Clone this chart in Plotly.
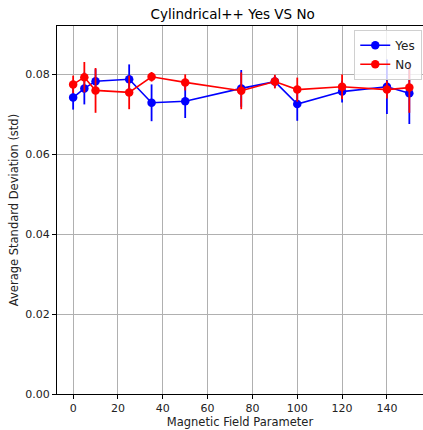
import plotly.graph_objects as go

# Magnetic field parameter values
field = [0, 5, 10, 25, 35, 50, 75, 90, 100, 120, 140, 150]

# Average standard deviation and its spread, per configuration
yes_mean = [0.0741, 0.0764, 0.0782, 0.0787, 0.0728, 0.0732, 0.0764, 0.0781, 0.0725, 0.0756, 0.0768, 0.0752]
yes_err = [0.0030, 0.0040, 0.0030, 0.0037, 0.0046, 0.0042, 0.0046, 0.0015, 0.0042, 0.0027, 0.0068, 0.0077]
no_mean = [0.0774, 0.0792, 0.0759, 0.0754, 0.0793, 0.0779, 0.0758, 0.0781, 0.0761, 0.0768, 0.0761, 0.0766]
no_err = [0.0022, 0.0038, 0.0056, 0.0042, 0.0012, 0.0020, 0.0046, 0.0017, 0.0030, 0.0031, 0.0022, 0.0063]

font = "DejaVu Sans"

fig = go.Figure()
for name, mean, err, color in [
    ("Yes", yes_mean, yes_err, "#0000ff"),
    ("No", no_mean, no_err, "#ff0000"),
]:
    fig.add_trace(go.Scatter(
        x=field, y=mean, name=name, mode="lines+markers",
        line=dict(color=color, width=1.6),
        marker=dict(color=color, size=8.5, symbol="circle"),
        error_y=dict(type="data", array=err, visible=True, color=color,
                     thickness=1.8, width=0),
    ))

axis_common = dict(
    showgrid=True, gridcolor="#b0b0b0", gridwidth=0.8,
    showline=True, linecolor="black", linewidth=1, mirror=True,
    ticks="outside", ticklen=4, tickcolor="black",
    tickfont=dict(family=font, size=11, color="#222"),
    zeroline=False,
)

fig.update_layout(
    width=423, height=430,
    margin=dict(l=57, r=0, t=26, b=36),
    paper_bgcolor="white", plot_bgcolor="white",
    title=dict(text="Cylindrical++ Yes VS No", x=0.55, xanchor="center",
               y=0.967, yanchor="middle",
               font=dict(family=font, size=13.5, color="black")),
    xaxis=dict(range=[-7.2, 156.1], tickvals=[0, 20, 40, 60, 80, 100, 120, 140],
               title=dict(text="Magnetic Field Parameter", standoff=3,
                          font=dict(family=font, size=11.5, color="#222")),
               **axis_common),
    yaxis=dict(range=[0, 0.092], dtick=0.02, tickformat=".2f",
               title=dict(text="Average Standard Deviation (std)", standoff=4,
                          font=dict(family=font, size=11.5, color="#222")),
               **axis_common),
    legend=dict(x=0.998, y=0.99, xanchor="right", yanchor="top",
                bgcolor="rgba(255,255,255,0.8)", bordercolor="#d0d0d0", borderwidth=1,
                font=dict(family=font, size=12, color="#222"),
                itemwidth=30, tracegroupgap=0),
    showlegend=True,
)

fig.write_html("out.html")
